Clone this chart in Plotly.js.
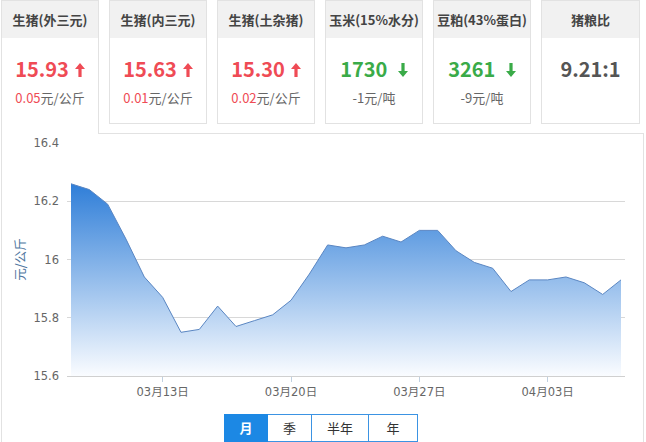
<!DOCTYPE html>
<html>
<head>
<meta charset="utf-8">
<script src="https://cdn.plot.ly/plotly-3.0.1.min.js"></script>
<style>
  html, body { margin:0; padding:0; width:646px; height:442px; overflow:hidden; background:#fff;
    font-family: "Noto Sans CJK SC", "Noto Sans", sans-serif; }
  #chart { position:absolute; left:0; top:0; width:646px; height:442px; }
  .card { position:absolute; top:0; width:97px; height:124px; border:1px solid #e2e2e2; background:#fff; box-sizing:border-box; z-index:2; }
  .card.first { height:134px; border-bottom:none; }
  .hd { height:37px; background:#f1f1f1; text-align:center; line-height:37px; font-size:13px; font-weight:bold; color:#444; white-space:nowrap; }
  .val { position:absolute; top:56px; left:0; right:0; text-align:center; font-size:20px; font-weight:bold; line-height:24px; white-space:nowrap; }
  .sub { position:absolute; top:88px; left:0; right:0; text-align:center; font-size:13px; line-height:18px; color:#666; white-space:nowrap; }
  .red { color:#ef4b55; }
  .green { color:#3aab48; }
  .grey { color:#555; }
  .arrow { display:inline-block; vertical-align:middle; margin-left:6px; margin-top:-3px; }
  .panel { position:absolute; left:1px; top:133px; width:643px; height:330px; border:1px solid #e2e2e2; box-sizing:border-box; z-index:0; }
  .btns { position:absolute; left:224px; top:414px; height:28px; display:flex; z-index:2; }
  .btn { height:28px; box-sizing:border-box; border:1px solid #3b93e3; border-left:none; text-align:center; line-height:26px; font-size:13px; color:#333; background:#fff; }
  .btn:first-child { border-left:1px solid #3b93e3; }
  .btn.on { background:#1c88e4; color:#fff; font-weight:bold; border-color:#1c88e4; }
</style>
</head>
<body>
<div class="panel"></div>
<div id="chart"></div>
<div id="cards"></div>
<div class="btns" id="btns"></div>
<script>
// ---- data ----
const dates = ['2018-03-08','2018-03-09','2018-03-10','2018-03-11','2018-03-12','2018-03-13','2018-03-14',
  '2018-03-15','2018-03-16','2018-03-17','2018-03-18','2018-03-19','2018-03-20','2018-03-21','2018-03-22',
  '2018-03-23','2018-03-24','2018-03-25','2018-03-26','2018-03-27','2018-03-28','2018-03-29','2018-03-30',
  '2018-03-31','2018-04-01','2018-04-02','2018-04-03','2018-04-04','2018-04-05','2018-04-06','2018-04-07'];
const prices = [16.26,16.24,16.19,16.07,15.94,15.87,15.75,15.76,15.84,15.77,15.79,15.81,15.86,15.95,16.05,
  16.04,16.05,16.08,16.06,16.10,16.10,16.03,15.99,15.97,15.89,15.93,15.93,15.94,15.92,15.88,15.93];
const xTickVals = ['2018-03-13','2018-03-20','2018-03-27','2018-04-03'];
const xTickText = ['03月13日','03月20日','03月27日','04月03日'];
const yTickVals = [15.6,15.8,16,16.2,16.4];
const yTickText = ['15.6','15.8','16','16.2','16.4'];
const yTitle = '元/公斤';

const cardNames = ['生猪(外三元)','生猪(内三元)','生猪(土杂猪)','玉米(15%水分)','豆粕(43%蛋白)','猪粮比'];
const cardValues = ['15.93','15.63','15.30','1730','3261','9.21:1'];
const cardDir = ['up','up','up','down','down',''];
const cardChange = ['0.05','0.01','0.02','-1','-9',''];
const cardUnit = ['元/公斤','元/公斤','元/公斤','元/吨','元/吨',''];
const periods = ['月','季','半年','年'];

// ---- cards ----
const cardLeft = [1,109,217,325,433,541];
const cardW = [98,98,98,98,98,99];
function arrowSvg(dir){
  const c = dir==='up' ? '#ef4b55' : '#3aab48';
  const p = dir==='up' ? 'M5 0 L10 6 L6.6 6 L6.6 14 L3.4 14 L3.4 6 L0 6 Z' : 'M5 14 L10 8 L6.6 8 L6.6 0 L3.4 0 L3.4 8 L0 8 Z';
  return '<svg class="arrow" width="10" height="14" viewBox="0 0 10 14"><path d="'+p+'" fill="'+c+'"/></svg>';
}
let html='';
cardNames.forEach((n,i)=>{
  const cls = cardDir[i]==='up'?'red':(cardDir[i]==='down'?'green':'grey');
  let sub='';
  if(cardChange[i]!==''){
    sub = cardDir[i]==='up' ? '<span class="red">'+cardChange[i]+'</span>'+cardUnit[i] : cardChange[i]+cardUnit[i];
  }
  html += '<div class="card'+(i===0?' first':'')+'" style="left:'+cardLeft[i]+'px;width:'+cardW[i]+'px">'
    + '<div class="hd">'+n+'</div>'
    + '<div class="val '+cls+'">'+cardValues[i]+(cardDir[i]?(cardDir[i]==='down'?'&nbsp;':'')+arrowSvg(cardDir[i]):'')+'</div>'
    + (sub?'<div class="sub">'+sub+'</div>':'')
    + '</div>';
});
document.getElementById('cards').innerHTML = html;
const bw=[44,44,57,49];
document.getElementById('btns').innerHTML = periods.map((p,i)=>'<div class="btn'+(i===0?' on':'')+'" style="width:'+bw[i]+'px">'+p+'</div>').join('');

// ---- chart ----
const tickFont = {family:'DejaVu Sans, Noto Sans CJK SC, sans-serif', size:11.5, color:'#666'};
const trace = {
  x: dates, y: prices, type:'scatter', mode:'lines',
  line:{color:'#5a86c2', width:1},
  fill:'tozeroy',
  fillgradient:{type:'vertical', start:15.6, stop:Math.max(...prices),
    colorscale:[[0,'rgba(250,252,255,1)'],[1,'rgb(47,126,216)']]},
  hoverinfo:'skip'
};
const layout = {
  width:646, height:442,
  margin:{l:67, r:21, t:143, b:66, pad:0},
  paper_bgcolor:'rgba(0,0,0,0)', plot_bgcolor:'rgba(0,0,0,0)',
  showlegend:false,
  xaxis:{type:'date', range:['2018-03-07 18:46','2018-04-07 05:14'],
    tickvals:xTickVals, ticktext:xTickText, tickfont:tickFont,
    showgrid:false, zeroline:false, showline:true, linecolor:'#d0d0d0', linewidth:1,
    ticks:'outside', ticklen:5, tickcolor:'#c0d0e0', tickwidth:1},
  yaxis:{range:[15.6,16.4], tickvals:yTickVals, ticktext:yTickText, tickfont:tickFont,
    showgrid:true, gridcolor:'#d8d8d8', gridwidth:1, zeroline:false, showline:false,
    ticks:'', ticklabelstandoff:7,
    title:{text:yTitle, standoff:5, font:{family:'Noto Sans CJK SC, sans-serif', size:12.5, color:'#4d759e'}}}
};
Plotly.newPlot('chart',[trace],layout,{displayModeBar:false, staticPlot:true});
</script>
</body>
</html>
